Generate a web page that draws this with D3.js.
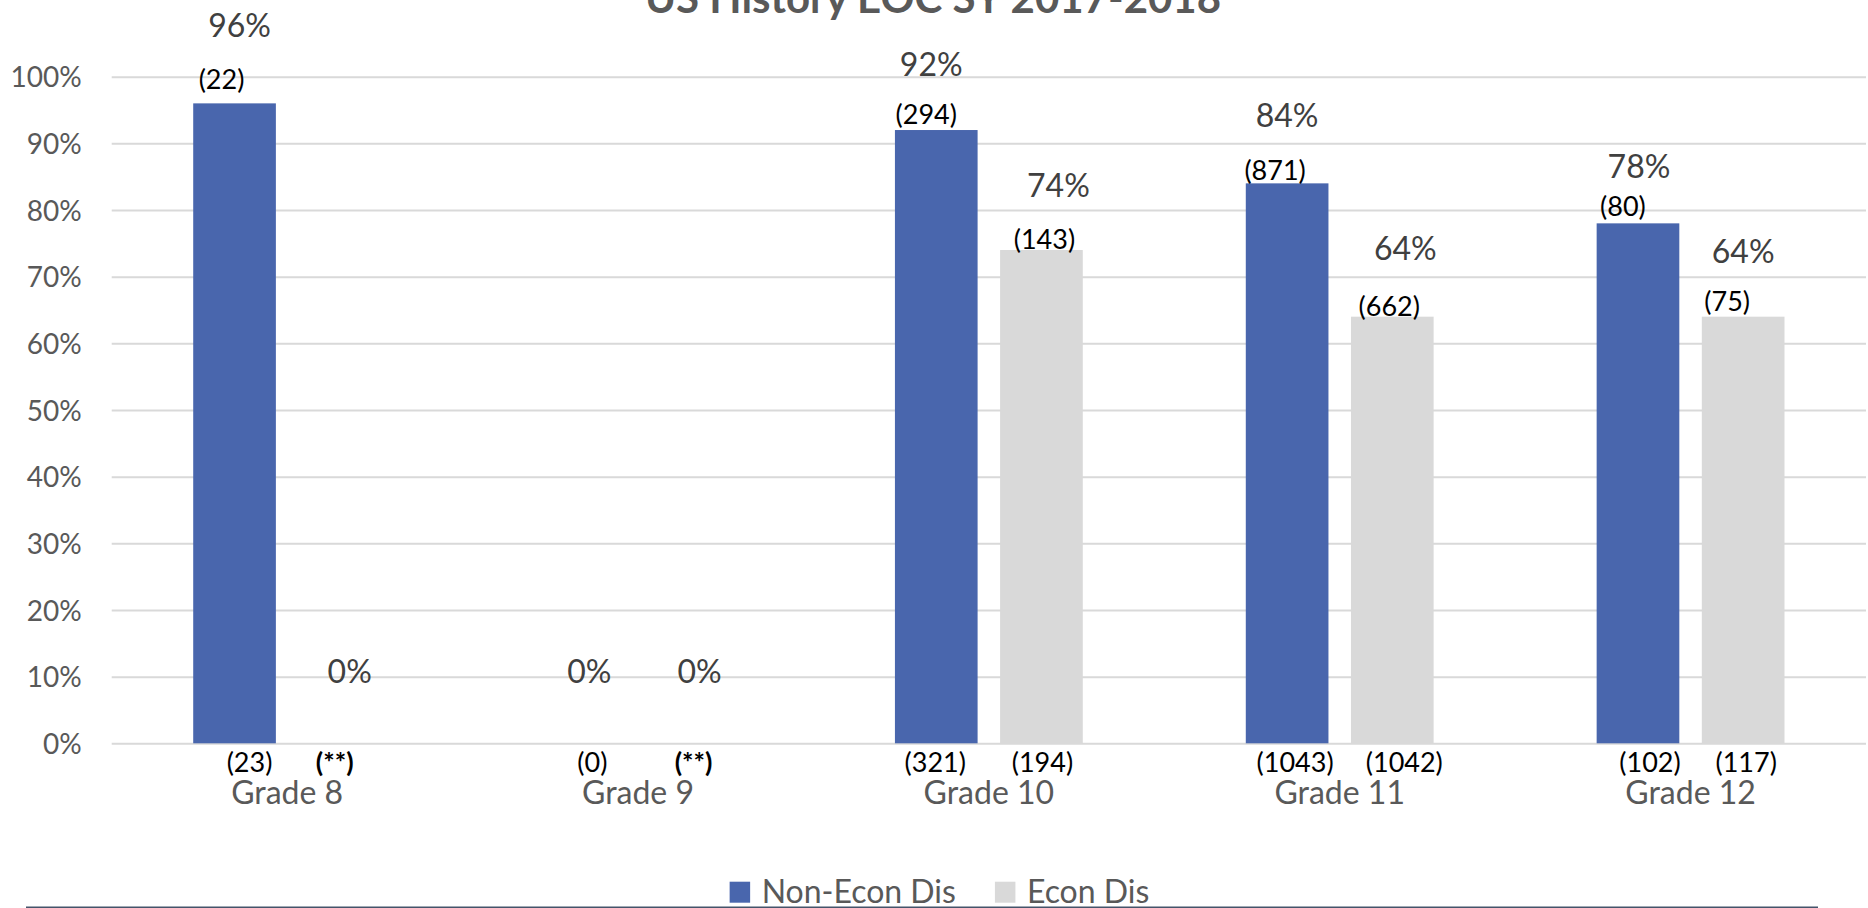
<!DOCTYPE html>
<html>
<head>
<meta charset="utf-8">
<script src="https://cdn.jsdelivr.net/npm/d3@7"></script>
<style>
  html, body { margin: 0; padding: 0; background: #ffffff; }
  svg { display: block; font-family: Lato, "Open Sans", sans-serif; }
</style>
</head>
<body>
<svg id="chart" width="1868" height="908"></svg>
<script>
// ---- data ----
const title = "US History EOC SY 2017-2018";
const grades = ["Grade 8", "Grade 9", "Grade 10", "Grade 11", "Grade 12"];
const seriesNames = ["Non-Econ Dis", "Econ Dis"];
// percent passing
const nonEconPct = [96, 0, 92, 84, 78];
const econPct = [0, 0, 74, 64, 64];
// number passing (shown above the bar)
const nonEconPassed = ["22", null, "294", "871", "80"];
const econPassed = [null, null, "143", "662", "75"];
// number tested (shown under the axis); ** = suppressed
const nonEconTested = ["23", "0", "321", "1043", "102"];
const econTested = ["**", "**", "194", "1042", "117"];
const yTicks = [0, 10, 20, 30, 40, 50, 60, 70, 80, 90, 100];

// ---- layout ----
const colors = { "Non-Econ Dis": "#4966AD", "Econ Dis": "#D9D9D9" };
// hand-placed label nudges [dx, dy] relative to bar centre / bar top
const pctNudge = {
  "Non-Econ Dis": [[5, -78], [4, -72], [-5, -66], [0, -68], [1, -57]],
  "Econ Dis":     [[10, -72], [9, -72], [17, -65], [13, -68], [0, -65]]
};
const passNudge = {
  "Non-Econ Dis": [[-13, -23], [0, 0], [-10, -15], [-12, -12], [-15, -16]],
  "Econ Dis":     [[0, 0], [0, 0], [3, -10], [-3, -10], [-16, -15]]
};
const testedNudge = {
  "Non-Econ Dis": [15, 7, -1, 8, 12],
  "Econ Dis":     [-5, 3, 1, 12, 3]
};

const svg = d3.select("#chart");
const plotLeft = 111.7, plotRight = 1866;
const y = d3.scaleLinear().domain([0, 100]).range([743.3, 76.7]);
const x0 = d3.scaleBand().domain(grades).range([plotLeft, plotRight]);
const x1 = d3.scaleBand().domain(seriesNames).range([0, x0.bandwidth()])
  .paddingInner(0.214).paddingOuter(0.775);

// title (runs off the top edge)
svg.append("text")
  .attr("x", 933).attr("y", 13)
  .attr("text-anchor", "middle")
  .attr("font-size", 42).attr("font-weight", 700)
  .attr("fill", "#595959")
  .text(title);

// value axis with gridlines
const yAxis = svg.append("g")
  .attr("transform", `translate(${plotLeft},0)`)
  .call(d3.axisLeft(y).tickValues(yTicks).tickFormat(d => d + "%")
    .tickSize(-(plotRight - plotLeft)).tickPadding(30));
yAxis.select(".domain").remove();
yAxis.selectAll(".tick line").attr("stroke", "#D9D9D9").attr("stroke-width", 2);
yAxis.selectAll(".tick text")
  .attr("font-size", 28).attr("fill", "#595959")
  .attr("font-family", "Lato, sans-serif")
  .attr("dy", "0.36em");

// category axis
const xAxis = svg.append("g")
  .attr("transform", `translate(0,${y(0)})`)
  .call(d3.axisBottom(x0).tickSize(0));
xAxis.select(".domain").remove();
xAxis.selectAll(".tick text")
  .attr("y", 60.7).attr("dy", 0)
  .attr("font-size", 32).attr("fill", "#595959")
  .attr("font-family", "Lato, sans-serif");

// flatten to one record per bar
const bars = [];
grades.forEach((g, i) => {
  bars.push({ grade: g, i, series: "Non-Econ Dis", pct: nonEconPct[i],
    passed: nonEconPassed[i], tested: nonEconTested[i] });
  bars.push({ grade: g, i, series: "Econ Dis", pct: econPct[i],
    passed: econPassed[i], tested: econTested[i] });
});
const cx = d => x0(d.grade) + x1(d.series) + x1.bandwidth() / 2;

svg.append("g").selectAll("rect")
  .data(bars.filter(d => d.pct > 0))
  .join("rect")
  .attr("x", d => x0(d.grade) + x1(d.series))
  .attr("y", d => y(d.pct))
  .attr("width", x1.bandwidth())
  .attr("height", d => y(0) - y(d.pct))
  .attr("fill", d => colors[d.series]);

// percent labels
svg.append("g").selectAll("text")
  .data(bars)
  .join("text")
  .attr("x", d => cx(d) + pctNudge[d.series][d.i][0])
  .attr("y", d => y(d.pct) + pctNudge[d.series][d.i][1])
  .attr("dy", "0.36em")
  .attr("text-anchor", "middle")
  .attr("font-size", 32).attr("fill", "#404040")
  .text(d => d.pct + "%");

// number passing above bars
svg.append("g").selectAll("text")
  .data(bars.filter(d => d.passed !== null))
  .join("text")
  .attr("x", d => cx(d) + passNudge[d.series][d.i][0])
  .attr("y", d => y(d.pct) + passNudge[d.series][d.i][1])
  .attr("dy", "0.33em")
  .attr("text-anchor", "middle")
  .attr("font-size", 27).attr("fill", "#000000")
  .text(d => `(${d.passed})`);

// number tested under the axis
svg.append("g").selectAll("text")
  .data(bars)
  .join("text")
  .attr("x", d => cx(d) + testedNudge[d.series][d.i])
  .attr("y", 763)
  .attr("dy", "0.33em")
  .attr("text-anchor", "middle")
  .attr("font-size", 27).attr("fill", "#000000")
  .attr("font-weight", d => d.tested === "**" ? 700 : 400)
  .text(d => `(${d.tested})`);

// legend
const legend = svg.append("g");
let lx = 0;
seriesNames.forEach(s => {
  const item = legend.append("g").attr("transform", `translate(${lx},0)`);
  item.append("rect").attr("x", 0).attr("y", 881.7).attr("width", 20.5).attr("height", 21)
    .attr("fill", colors[s]);
  const t = item.append("text").attr("x", 32).attr("y", 903)
    .attr("font-size", 32).attr("fill", "#595959").text(s);
  lx += 32 + t.node().getComputedTextLength() + 39;
});
const legendWidth = lx - 39;
legend.attr("transform", `translate(${939.5 - legendWidth / 2},0)`);

// bottom rule
svg.append("line")
  .attr("x1", 26).attr("x2", 1818).attr("y1", 907.3).attr("y2", 907.3)
  .attr("stroke", "#44546A").attr("stroke-width", 1.5);
</script>
</body>
</html>
